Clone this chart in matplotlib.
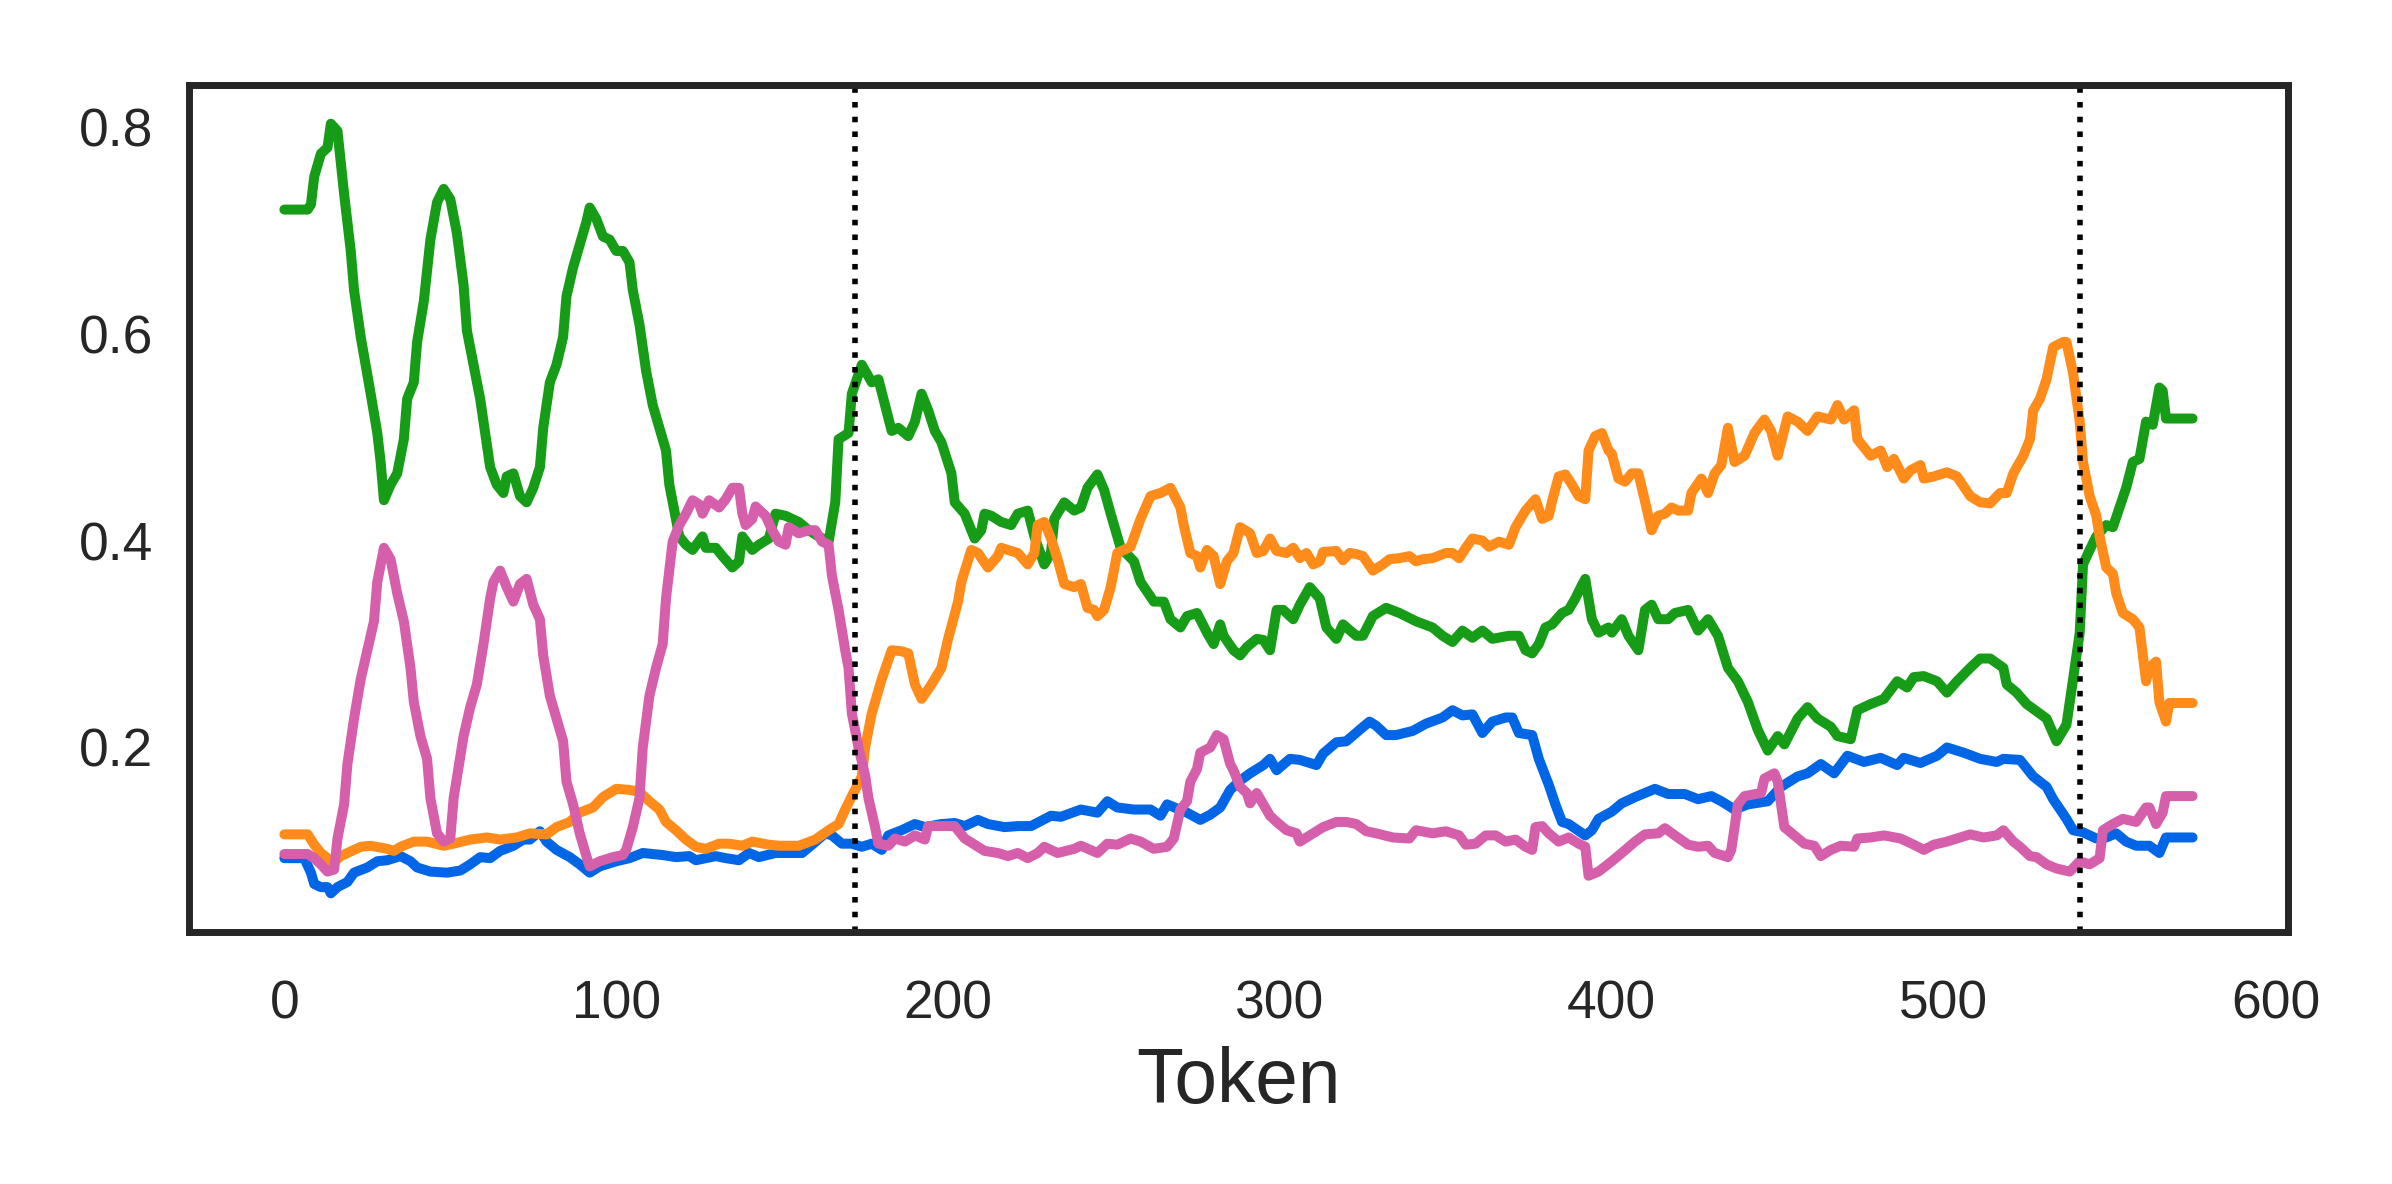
import matplotlib
matplotlib.use("Agg")
import matplotlib.pyplot as plt
import seaborn as sns

sns.set_style("white")
plt.rcParams['font.family'] = ['Liberation Sans', 'DejaVu Sans']

# values, (token, value) per series
green_x = [0, 7, 8, 9, 11, 13, 14, 16, 18, 20, 21, 23, 26, 28, 29, 30, 32, 34, 36, 37, 39, 40, 42, 44, 46, 48,
           50, 52, 54, 55, 57, 59, 61, 62, 64, 66, 67, 69, 71, 73, 75, 77, 78, 80, 82, 84, 85, 87, 89, 91, 92, 94,
           96, 98, 100, 102, 104, 105, 107, 109, 111, 113, 115, 116, 118, 119, 121, 123, 126, 127, 130, 132, 135,
           137, 138, 141, 143, 146, 148, 151, 155, 158, 161, 164, 166, 167, 170, 171, 174, 177, 179, 183, 185, 188,
           190, 192, 194, 196, 198, 201, 202, 205, 208, 210, 211, 213, 216, 219, 221, 224, 226, 229, 231, 232, 235,
           238, 240, 242, 245, 247, 249, 250, 252, 256, 258, 262, 265, 267, 270, 272, 275, 278, 280, 282, 283, 286,
           288, 290, 293, 295, 297, 299, 301, 304, 306, 309, 312, 314, 317, 319, 323, 325, 328, 332, 336, 341, 346,
           349, 352, 355, 358, 361, 364, 369, 372, 374, 376, 378, 380, 382, 385, 387, 389, 391, 392, 394, 396, 399,
           400, 403, 405, 408, 410, 412, 414, 417, 419, 423, 426, 429, 432, 435, 438, 441, 444, 447, 450, 452, 456,
           459, 462, 466, 468, 472, 474, 478, 482, 486, 489, 491, 494, 498, 501, 504, 508, 511, 514, 518, 519, 522,
           525, 531, 534, 537, 539, 541, 542, 544, 546, 549, 551, 553, 555, 557, 559, 561, 563, 565, 566, 567, 575]
green_y = [0.72, 0.72, 0.725, 0.752, 0.774, 0.78, 0.803, 0.796, 0.735, 0.68, 0.642, 0.597, 0.542, 0.504, 0.476,
           0.439, 0.454, 0.465, 0.498, 0.537, 0.553, 0.592, 0.631, 0.691, 0.727, 0.74, 0.73, 0.697, 0.647, 0.603,
           0.57, 0.537, 0.493, 0.471, 0.454, 0.446, 0.462, 0.465, 0.443, 0.437, 0.451, 0.471, 0.509, 0.553, 0.57,
           0.597, 0.636, 0.664, 0.686, 0.708, 0.722, 0.711, 0.694, 0.691, 0.68, 0.68, 0.669, 0.642, 0.609, 0.564,
           0.531, 0.509, 0.487, 0.454, 0.421, 0.404, 0.396, 0.391, 0.404, 0.393, 0.393, 0.385, 0.374, 0.38, 0.404,
           0.391, 0.396, 0.402, 0.426, 0.424, 0.418, 0.41, 0.404, 0.399, 0.437, 0.498, 0.504, 0.542, 0.57, 0.553,
           0.556, 0.506, 0.509, 0.501, 0.515, 0.542, 0.526, 0.506, 0.495, 0.465, 0.437, 0.426, 0.402, 0.41, 0.426,
           0.424, 0.418, 0.415, 0.426, 0.429, 0.404, 0.377, 0.388, 0.421, 0.437, 0.429, 0.432, 0.451, 0.464, 0.449,
           0.426, 0.415, 0.393, 0.38, 0.36, 0.341, 0.341, 0.324, 0.316, 0.327, 0.33, 0.311, 0.3, 0.319, 0.308,
           0.294, 0.289, 0.297, 0.305, 0.304, 0.294, 0.333, 0.333, 0.324, 0.338, 0.355, 0.344, 0.316, 0.305, 0.319,
           0.308, 0.308, 0.327, 0.335, 0.33, 0.322, 0.316, 0.308, 0.302, 0.313, 0.306, 0.313, 0.305, 0.308, 0.308,
           0.294, 0.291, 0.3, 0.316, 0.319, 0.33, 0.333, 0.344, 0.357, 0.363, 0.324, 0.311, 0.316, 0.311, 0.324,
           0.308, 0.294, 0.333, 0.338, 0.324, 0.324, 0.33, 0.333, 0.313, 0.324, 0.308, 0.277, 0.264, 0.244, 0.217,
           0.197, 0.211, 0.203, 0.228, 0.239, 0.228, 0.22, 0.211, 0.208, 0.236, 0.242, 0.247, 0.264, 0.258, 0.268,
           0.269, 0.264, 0.253, 0.264, 0.277, 0.286, 0.286, 0.277, 0.261, 0.253, 0.242, 0.228, 0.206, 0.222, 0.266,
           0.311, 0.377, 0.391, 0.404, 0.415, 0.413, 0.432, 0.451, 0.476, 0.479, 0.515, 0.512, 0.548, 0.545,
           0.518, 0.518]

blue_x = [0, 6, 8, 9, 11, 13, 14, 16, 19, 21, 25, 28, 31, 35, 38, 40, 44, 49, 53, 56, 59, 62, 65, 69, 72, 74,
          77, 79, 82, 86, 89, 92, 95, 100, 104, 108, 114, 118, 122, 124, 127, 130, 133, 137, 140, 143, 148, 150,
          156, 159, 163, 165, 168, 171, 174, 177, 180, 182, 186, 190, 193, 198, 202, 205, 209, 212, 217, 221, 225,
          231, 234, 240, 245, 248, 251, 256, 261, 264, 266, 272, 276, 279, 282, 285, 288, 291, 295, 297, 299, 303,
          306, 311, 313, 317, 320, 324, 327, 329, 332, 335, 340, 344, 349, 352, 355, 358, 361, 364, 368, 370, 372,
          376, 378, 381, 383, 385, 387, 392, 394, 396, 400, 403, 407, 410, 413, 417, 422, 426, 430, 433, 437, 441,
          447, 451, 456, 459, 463, 467, 471, 476, 481, 486, 488, 493, 498, 501, 506, 511, 516, 518, 523, 527, 531,
          533, 537, 539, 542, 546, 549, 552, 555, 558, 562, 565, 567, 575]
blue_y = [0.093, 0.093, 0.079, 0.068, 0.065, 0.065, 0.059, 0.065, 0.07, 0.079, 0.084, 0.09, 0.091, 0.095, 0.09,
          0.084, 0.08, 0.079, 0.081, 0.087, 0.094, 0.093, 0.1, 0.105, 0.111, 0.111, 0.119, 0.109, 0.101, 0.094,
          0.087, 0.079, 0.085, 0.09, 0.093, 0.098, 0.096, 0.094, 0.095, 0.091, 0.093, 0.095, 0.093, 0.091, 0.098,
          0.094, 0.098, 0.098, 0.098, 0.106, 0.117, 0.115, 0.107, 0.107, 0.104, 0.107, 0.101, 0.115, 0.12, 0.126,
          0.123, 0.126, 0.127, 0.124, 0.13, 0.126, 0.123, 0.124, 0.124, 0.134, 0.133, 0.14, 0.137, 0.148, 0.142,
          0.14, 0.14, 0.134, 0.145, 0.137, 0.13, 0.135, 0.142, 0.159, 0.168, 0.175, 0.183, 0.189, 0.178, 0.189,
          0.188, 0.183, 0.194, 0.205, 0.206, 0.217, 0.225, 0.221, 0.212, 0.212, 0.216, 0.223, 0.229, 0.236, 0.231,
          0.232, 0.214, 0.225, 0.229, 0.229, 0.214, 0.212, 0.189, 0.164, 0.145, 0.128, 0.126, 0.115, 0.12, 0.131,
          0.138, 0.146, 0.152, 0.156, 0.16, 0.155, 0.155, 0.15, 0.153, 0.148, 0.14, 0.145, 0.148, 0.162, 0.172,
          0.175, 0.184, 0.175, 0.192, 0.186, 0.19, 0.183, 0.19, 0.185, 0.192, 0.2, 0.195, 0.189, 0.186, 0.189,
          0.188, 0.172, 0.162, 0.15, 0.131, 0.12, 0.118, 0.112, 0.113, 0.117, 0.109, 0.105, 0.105, 0.098, 0.113,
          0.113]

orange_x = [0, 7, 9, 11, 13, 14, 17, 19, 23, 26, 31, 33, 35, 39, 43, 48, 51, 56, 61, 65, 70, 74, 79, 82, 86, 89,
            93, 96, 100, 104, 107, 110, 113, 115, 118, 121, 124, 127, 131, 134, 138, 141, 146, 149, 155, 160, 164,
            167, 169, 171, 174, 175, 177, 180, 183, 186, 188, 190, 192, 195, 198, 200, 203, 204, 207, 209, 212,
            215, 216, 219, 221, 224, 226, 227, 229, 231, 233, 235, 238, 240, 242, 244, 245, 247, 249, 251, 255,
            258, 261, 264, 267, 270, 271, 273, 275, 276, 278, 280, 282, 284, 286, 288, 291, 293, 295, 297, 299,
            302, 304, 306, 308, 310, 312, 313, 317, 319, 321, 323, 325, 328, 331, 333, 336, 339, 341, 343, 346,
            350, 352, 354, 356, 358, 361, 363, 366, 369, 371, 374, 377, 379, 381, 382, 384, 386, 388, 390, 392,
            393, 395, 397, 399, 400, 402, 404, 406, 408, 410, 412, 414, 416, 418, 420, 423, 424, 427, 429, 431,
            433, 435, 437, 440, 443, 446, 448, 450, 453, 456, 459, 462, 466, 468, 470, 473, 474, 478, 481, 483,
            485, 488, 490, 493, 494, 497, 501, 504, 508, 511, 514, 517, 519, 521, 524, 526, 527, 529, 531, 533,
            536, 537, 539, 541, 542, 544, 546, 547, 549, 551, 552, 554, 557, 559, 561, 562, 564, 565, 567, 568, 575]
orange_y = [0.116, 0.116, 0.106, 0.098, 0.093, 0.087, 0.095, 0.098, 0.104, 0.105, 0.102, 0.1, 0.104, 0.109,
            0.109, 0.105, 0.107, 0.111, 0.113, 0.111, 0.113, 0.117, 0.116, 0.123, 0.128, 0.137, 0.142, 0.152, 0.16,
            0.159, 0.157, 0.148, 0.14, 0.128, 0.12, 0.111, 0.104, 0.102, 0.107, 0.107, 0.105, 0.109, 0.106, 0.105,
            0.105, 0.111, 0.12, 0.126, 0.14, 0.153, 0.172, 0.2, 0.233, 0.266, 0.294, 0.293, 0.291, 0.261, 0.247,
            0.261, 0.277, 0.305, 0.341, 0.36, 0.391, 0.388, 0.374, 0.385, 0.393, 0.39, 0.388, 0.377, 0.388, 0.415,
            0.418, 0.402, 0.382, 0.358, 0.355, 0.358, 0.335, 0.333, 0.327, 0.333, 0.355, 0.388, 0.394, 0.421,
            0.443, 0.446, 0.451, 0.432, 0.415, 0.388, 0.385, 0.374, 0.391, 0.385, 0.358, 0.38, 0.388, 0.413, 0.407,
            0.388, 0.39, 0.402, 0.39, 0.388, 0.393, 0.383, 0.388, 0.377, 0.38, 0.389, 0.39, 0.381, 0.388, 0.387,
            0.385, 0.371, 0.377, 0.382, 0.383, 0.385, 0.38, 0.382, 0.383, 0.388, 0.388, 0.383, 0.393, 0.402, 0.4,
            0.394, 0.399, 0.396, 0.413, 0.429, 0.44, 0.421, 0.424, 0.438, 0.462, 0.464, 0.454, 0.443, 0.44, 0.487,
            0.501, 0.504, 0.487, 0.484, 0.46, 0.457, 0.465, 0.465, 0.438, 0.41, 0.424, 0.426, 0.432, 0.429, 0.429,
            0.446, 0.46, 0.446, 0.465, 0.473, 0.509, 0.476, 0.482, 0.504, 0.517, 0.506, 0.482, 0.52, 0.515, 0.506,
            0.52, 0.517, 0.531, 0.517, 0.526, 0.498, 0.482, 0.487, 0.471, 0.479, 0.46, 0.468, 0.473, 0.46, 0.462,
            0.466, 0.462, 0.443, 0.437, 0.436, 0.446, 0.446, 0.465, 0.482, 0.498, 0.526, 0.537, 0.556, 0.587, 0.592,
            0.592, 0.562, 0.515, 0.476, 0.443, 0.424, 0.404, 0.374, 0.368, 0.349, 0.33, 0.324, 0.316, 0.264, 0.277,
            0.283, 0.244, 0.225, 0.243, 0.243]

pink_x = [0, 7, 9, 11, 13, 15, 16, 18, 19, 21, 23, 25, 27, 28, 30, 32, 34, 36, 38, 39, 41, 43, 44, 46, 48, 50,
          51, 54, 56, 58, 60, 62, 63, 65, 67, 69, 71, 73, 75, 77, 78, 80, 82, 84, 85, 87, 89, 91, 92, 95, 99, 102,
          103, 105, 107, 108, 110, 112, 114, 115, 117, 119, 121, 123, 125, 126, 128, 131, 133, 135, 137, 138, 139,
          141, 142, 145, 147, 149, 151, 152, 155, 158, 160, 162, 164, 165, 167, 169, 170, 171, 173, 175, 176, 178,
          179, 182, 184, 187, 190, 193, 194, 198, 202, 205, 209, 211, 215, 218, 221, 224, 227, 229, 233, 238, 240,
          245, 248, 251, 255, 258, 262, 266, 268, 270, 272, 273, 275, 276, 279, 281, 283, 285, 286, 288, 290, 291,
          293, 295, 297, 299, 302, 305, 306, 310, 313, 317, 320, 323, 326, 329, 334, 339, 341, 346, 350, 354, 356,
          359, 362, 365, 368, 371, 374, 376, 377, 379, 381, 384, 387, 390, 392, 393, 396, 400, 403, 407, 410, 414,
          416, 419, 423, 426, 429, 431, 435, 436, 438, 440, 445, 446, 449, 450, 452, 455, 458, 461, 463, 466, 469,
          473, 474, 478, 482, 487, 491, 494, 497, 501, 504, 508, 512, 516, 518, 521, 523, 526, 528, 531, 534, 538,
          541, 544, 547, 548, 551, 554, 558, 561, 562, 564, 566, 567, 575]
pink_y = [0.097, 0.097, 0.093, 0.087, 0.08, 0.082, 0.112, 0.145, 0.184, 0.228, 0.266, 0.294, 0.322, 0.36, 0.393,
          0.382, 0.349, 0.322, 0.277, 0.244, 0.211, 0.189, 0.151, 0.117, 0.109, 0.112, 0.151, 0.211, 0.239, 0.261,
          0.3, 0.344, 0.36, 0.371, 0.355, 0.341, 0.358, 0.363, 0.338, 0.324, 0.289, 0.25, 0.228, 0.206, 0.167,
          0.145, 0.117, 0.095, 0.085, 0.09, 0.094, 0.096, 0.101, 0.123, 0.151, 0.2, 0.25, 0.277, 0.3, 0.344, 0.399,
          0.415, 0.426, 0.439, 0.435, 0.426, 0.439, 0.432, 0.44, 0.451, 0.451, 0.426, 0.415, 0.421, 0.433, 0.424,
          0.41, 0.399, 0.396, 0.413, 0.407, 0.41, 0.41, 0.399, 0.396, 0.366, 0.333, 0.294, 0.277, 0.233, 0.2,
          0.173, 0.151, 0.123, 0.107, 0.105, 0.112, 0.109, 0.115, 0.111, 0.124, 0.124, 0.124, 0.112, 0.104, 0.1,
          0.098, 0.095, 0.098, 0.093, 0.098, 0.104, 0.098, 0.102, 0.105, 0.098, 0.107, 0.106, 0.112, 0.109, 0.102,
          0.104, 0.112, 0.14, 0.148, 0.167, 0.179, 0.195, 0.2, 0.212, 0.208, 0.184, 0.178, 0.162, 0.156, 0.146,
          0.156, 0.145, 0.134, 0.128, 0.12, 0.117, 0.109, 0.117, 0.123, 0.128, 0.128, 0.126, 0.119, 0.117, 0.113,
          0.112, 0.12, 0.117, 0.119, 0.115, 0.106, 0.107, 0.115, 0.115, 0.109, 0.111, 0.104, 0.101, 0.123, 0.124,
          0.117, 0.109, 0.113, 0.107, 0.104, 0.076, 0.08, 0.09, 0.098, 0.109, 0.116, 0.117, 0.122, 0.115, 0.106,
          0.104, 0.105, 0.098, 0.094, 0.101, 0.145, 0.153, 0.156, 0.17, 0.175, 0.167, 0.123, 0.115, 0.107, 0.105,
          0.095, 0.101, 0.105, 0.104, 0.112, 0.113, 0.115, 0.112, 0.106, 0.101, 0.106, 0.109, 0.112, 0.116, 0.113,
          0.115, 0.12, 0.109, 0.104, 0.095, 0.094, 0.087, 0.083, 0.08, 0.09, 0.087, 0.093, 0.12, 0.126, 0.131,
          0.128, 0.142, 0.142, 0.126, 0.137, 0.153, 0.153]

boundaries = [172, 541]

fig, ax = plt.subplots(figsize=(5.98, 2.96), dpi=400)
fig.subplots_adjust(left=0.079, right=0.9565, top=0.928, bottom=0.213)

ax.plot(blue_x, blue_y, color='#0066e6', lw=1.8)
ax.plot(green_x, green_y, color='#169c16', lw=1.8)
ax.plot(orange_x, orange_y, color='#ff8b1a', lw=1.8)
ax.plot(pink_x, pink_y, color='#d65fab', lw=1.8)

for b in boundaries:
    ax.axvline(b, color='black', linestyle=':', lw=1.0)

ax.set_xticks([0, 100, 200, 300, 400, 500, 600])
ax.set_yticks([0.2, 0.4, 0.6, 0.8])
ax.set_yticklabels(['0.2', '0.4', '0.6', '0.8'])
ax.tick_params(labelsize=9.6, colors='#262626')
ax.tick_params(axis='y', pad=3)
ax.tick_params(axis='x', pad=5)
ax.set_xlabel('Token', fontsize=13.8, color='#262626', labelpad=3)
for s in ax.spines.values():
    s.set_color('#262626')
    s.set_linewidth(1.25)

plt.savefig('out.png', dpi=400)
